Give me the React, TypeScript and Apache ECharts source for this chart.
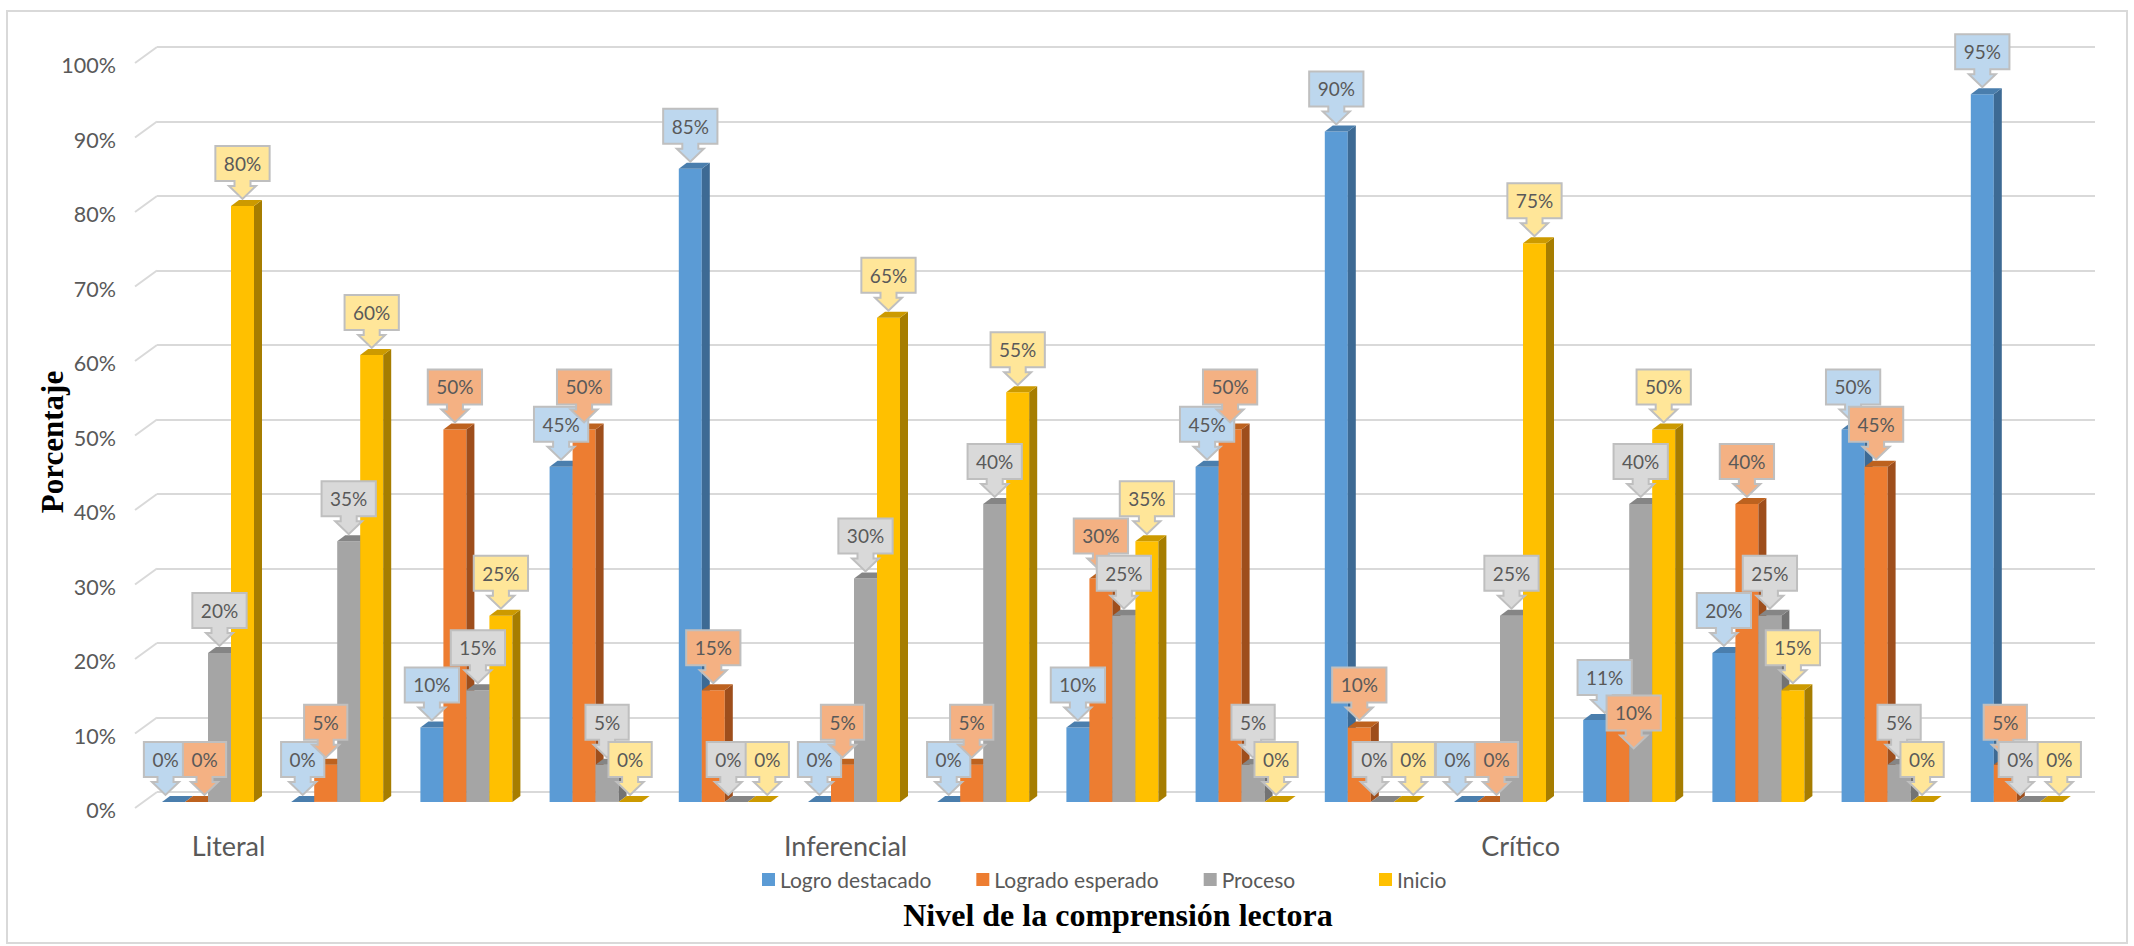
import React, { useEffect, useRef } from "react";
import * as echarts from "echarts";

const categories = [
  "Literal", "", "", "", "",
  "Inferencial", "", "", "", "",
  "Crítico", "", "", "", "",
];
const seriesNames = ["Logro destacado", "Logrado esperado", "Proceso", "Inicio"];
const logroDestacado = [0, 0, 10, 45, 85, 0, 0, 10, 45, 90, 0, 11, 20, 50, 95];
const logradoEsperado = [0, 5, 50, 50, 15, 5, 5, 30, 50, 10, 0, 10, 40, 45, 5];
const proceso = [20, 35, 15, 5, 0, 30, 40, 25, 5, 0, 25, 40, 25, 5, 0];
const inicio = [80, 60, 25, 0, 0, 65, 55, 35, 0, 0, 75, 50, 15, 0, 0];
const yTicks = [0, 10, 20, 30, 40, 50, 60, 70, 80, 90, 100];

const seriesValues = [logroDestacado, logradoEsperado, proceso, inicio];
const frontColors = ["#5B9BD5", "#ED7D31", "#A5A5A5", "#FFC000"];
const topColors = ["#4A7EAD", "#BD621F", "#858585", "#CC9A00"];
const sideColors = ["#3D6A94", "#9E4E1C", "#737373", "#A67D00"];
const labelFills = ["#BDD7EE", "#F4B183", "#D9D9D9", "#FFE699"];

// manual callout nudges (series-category) in px, as in the reference
const labelNudges: Record<string, [number, number]> = {
  "0-0": [-8, 0],
  "1-0": [8, 0],
  "0-10": [-8, 0],
  "1-10": [8, 0],
  "2-4": [-8, 0],
  "3-4": [8, 0],
  "2-9": [-8, 0],
  "3-9": [8, 0],
  "2-14": [-8, 0],
  "3-14": [8, 0],
  "0-11": [10, 0],
  "1-11": [16, 28],
};

const FX = -13.6;
const FY = 9.9;
const DX = 8;
const DY = 6;
const LABEL_FONT = "19px Lato";

let measureCtx: CanvasRenderingContext2D | null = null;
function textWidth(t: string): number {
  if (!measureCtx) {
    const c = document.createElement("canvas");
    measureCtx = c.getContext("2d");
  }
  if (!measureCtx) return t.length * 11;
  measureCtx.font = LABEL_FONT;
  return measureCtx.measureText(t).width;
}

function barGeom(params: any, api: any, k: number) {
  const idx = api.value(0);
  const v = api.value(1);
  const base = api.coord([idx, 0]);
  const top = api.coord([idx, v]);
  const band = api.size([1, 0])[0];
  const bw = band * (23 / 129.2);
  const x0 = base[0] - 2 * bw + k * bw + FX;
  const yt = top[1] + FY;
  const yb = base[1] + FY;
  return { x0, yt, yb, bw, v, idx };
}

export default function App() {
  const ref = useRef<HTMLDivElement>(null);
  useEffect(() => {
    if (!ref.current) return;
    const chart = echarts.init(ref.current, undefined, { renderer: "svg" });

    const barSeries = seriesValues.map((vals, k) => ({
      type: "custom",
      name: seriesNames[k],
      z: 2,
      itemStyle: { color: frontColors[k] },
      data: vals.map((v, i) => [i, v]),
      renderItem: (params: any, api: any) => {
        const { x0, yt, yb, bw } = barGeom(params, api, k);
        return {
          type: "group",
          children: [
            {
              type: "rect",
              shape: { x: x0, y: yt, width: bw, height: yb - yt },
              style: { fill: frontColors[k] },
            },
            {
              type: "polygon",
              shape: {
                points: [
                  [x0 + bw, yt],
                  [x0 + bw + DX, yt - DY],
                  [x0 + bw + DX, yb - DY],
                  [x0 + bw, yb],
                ],
              },
              style: { fill: sideColors[k] },
            },
            {
              type: "polygon",
              shape: {
                points: [
                  [x0, yt],
                  [x0 + DX, yt - DY],
                  [x0 + bw + DX, yt - DY],
                  [x0 + bw, yt],
                ],
              },
              style: { fill: topColors[k] },
            },
          ],
        };
      },
    }));

    const labelSeries = seriesValues.map((vals, k) => ({
      type: "custom",
      name: seriesNames[k],
      z: 5,
      itemStyle: { color: frontColors[k] },
      data: vals.map((v, i) => [i, v]),
      renderItem: (params: any, api: any) => {
        const { x0, yt, bw, v, idx } = barGeom(params, api, k);
        const nudge = labelNudges[`${k}-${idx}`] || [0, 0];
        const txt = `${v}%`;
        const w = textWidth(txt) + 17;
        const cx = x0 + bw / 2 + nudge[0];
        const ty = yt - DY - 1 + nudge[1];
        const B = ty - 18;
        const T = B - 35;
        return {
          type: "group",
          children: [
            {
              type: "polygon",
              shape: {
                points: [
                  [cx - w / 2, T],
                  [cx + w / 2, T],
                  [cx + w / 2, B],
                  [cx + 8, B],
                  [cx + 8, B + 5],
                  [cx + 13.5, B + 5],
                  [cx, ty],
                  [cx - 13.5, B + 5],
                  [cx - 8, B + 5],
                  [cx - 8, B],
                  [cx - w / 2, B],
                ],
              },
              style: { fill: labelFills[k], stroke: "#BFBFBF", lineWidth: 2 },
            },
            {
              type: "text",
              x: cx,
              y: (T + B) / 2,
              style: {
                text: txt,
                font: LABEL_FONT,
                fill: "#595959",
                align: "center",
                verticalAlign: "middle",
              },
            },
          ],
        };
      },
    }));

    const stubSeries = {
      type: "custom",
      z: 1,
      silent: true,
      data: yTicks.map((t) => [0, t]),
      renderItem: (params: any, api: any) => {
        const p = api.coord([0, api.value(1)]);
        const xl = params.coordSys.x;
        return {
          type: "line",
          shape: { x1: xl - 22, y1: p[1] + 16, x2: xl, y2: p[1] },
          style: { stroke: "#D9D9D9", lineWidth: 2 },
        };
      },
    };

    const xData = categories.map((c) => {
      if (c === "Inferencial") return { value: c, textStyle: { padding: [0, 44, 0, 0] } };
      if (c === "Literal" || c === "Crítico")
        return { value: c, textStyle: { padding: [0, 0, 0, 14] } };
      return c;
    });

    const legendCommon = {
      top: 864,
      icon: "rect",
      itemWidth: 13,
      itemHeight: 13,
      itemGap: 45,
      textStyle: { fontFamily: "Lato", fontSize: 21, color: "#595959" },
    };

    chart.setOption({
      animation: false,
      grid: { left: 157, right: 39, top: 47, bottom: 154 },
      legend: [
        { ...legendCommon, data: seriesNames.slice(0, 3), left: 757 },
        { ...legendCommon, data: seriesNames.slice(3), left: 1374 },
      ],
      xAxis: {
        type: "category",
        data: xData,
        axisLine: { show: false },
        axisTick: { show: false },
        axisLabel: {
          interval: 0,
          margin: 40,
          fontFamily: "Lato",
          fontSize: 27,
          color: "#595959",
        },
      },
      yAxis: {
        type: "value",
        min: 0,
        max: 100,
        interval: 10,
        axisLine: { show: false },
        axisTick: { show: false },
        splitLine: { lineStyle: { color: "#D9D9D9", width: 2 } },
        axisLabel: {
          formatter: "{value}%",
          margin: 41,
          verticalAlign: "top",
          lineHeight: 36,
          fontFamily: "Lato",
          fontSize: 21.5,
          color: "#595959",
        },
      },
      graphic: [
        {
          type: "rect",
          shape: { x: 7, y: 11, width: 2120, height: 932 },
          style: { fill: "none", stroke: "#D9D9D9", lineWidth: 2 },
          silent: true,
        },
        {
          type: "text",
          x: 1118,
          y: 915,
          style: {
            text: "Nivel de la comprensión lectora",
            font: "bold 32px 'Liberation Serif'",
            fill: "#000000",
            align: "center",
            verticalAlign: "middle",
          },
        },
        {
          type: "text",
          x: 52,
          y: 442,
          rotation: Math.PI / 2,
          style: {
            text: "Porcentaje",
            font: "bold 31px 'Liberation Serif'",
            fill: "#000000",
            align: "center",
            verticalAlign: "middle",
          },
        },
      ],
      series: [stubSeries, ...barSeries, ...labelSeries],
    });
    return () => chart.dispose();
  }, []);
  return (
    <div
      ref={ref}
      style={{ position: "fixed", left: 0, top: 0, width: 2134, height: 946, background: "#fff" }}
    />
  );
}
